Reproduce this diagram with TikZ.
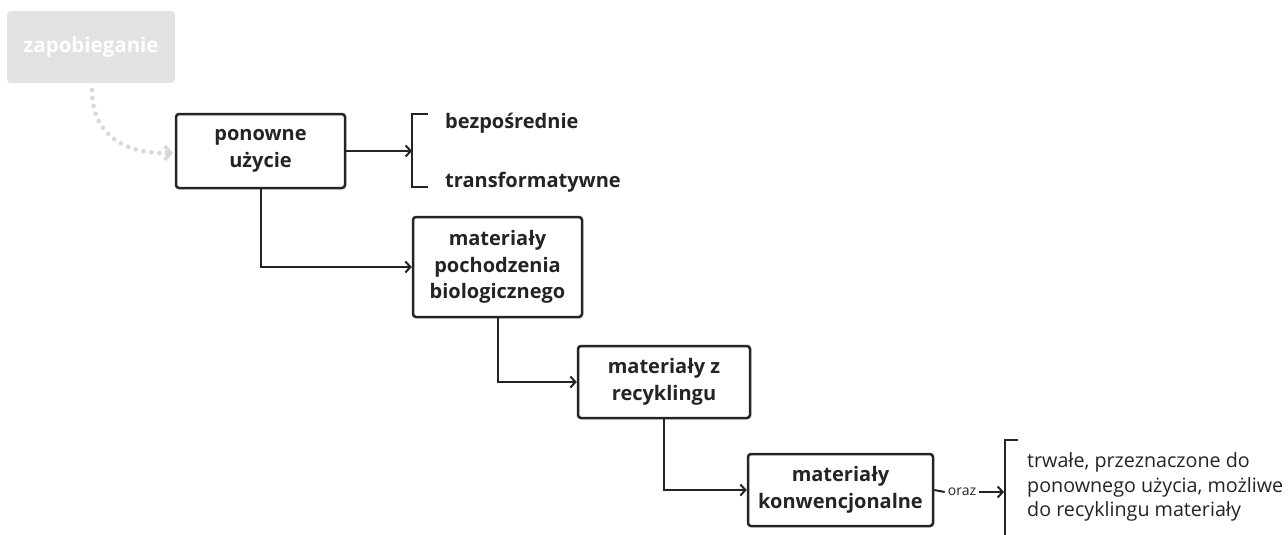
\documentclass[tikz,border=0pt]{standalone}
\usepackage{fontspec}
\setmainfont{Open Sans}
\usetikzlibrary{arrows.meta}
\definecolor{ink}{HTML}{242424}
\definecolor{ghost}{HTML}{E2E2E2}
\tikzset{
  x=1pt, y=-1pt,
  stagebox/.style={draw=ink, line width=2.5pt, rounded corners=3pt, fill=white,
    align=center, text=ink, inner sep=0pt,
    font=\bfseries\fontsize{20}{26.5}\selectfont},
  faded/.style={fill=ghost, rounded corners=4pt, align=center, text=white, inner sep=0pt,
    font=\bfseries\fontsize{20.5}{26}\selectfont},
  link/.style={draw=ink, line width=2pt, -{Straight Barb[length=5pt,width=11pt,line width=2pt]}},
  brace/.style={draw=ink, line width=2.5pt},
  itemtext/.style={anchor=west, text=ink, inner sep=0pt,
    font=\bfseries\fontsize{20}{26}\selectfont},
  notetext/.style={anchor=west, text=ink, inner sep=0pt, align=left,
    font=\fontsize{19.7}{24.5}\selectfont},
}
\begin{document}
\begin{tikzpicture}
\useasboundingbox (0,0) rectangle (1288,535);
\fill[white] (0,0) rectangle (1288,535);

% stages
\node[faded, minimum width=168pt, minimum height=72pt] (prev) at (91,47) {zapobieganie};
\node[stagebox, minimum width=169pt, minimum height=74pt] (reuse) at (260.5,151) {ponowne\\użycie};
\node[stagebox, minimum width=169pt, minimum height=100pt] (bio) at (497.5,267) {materiały\\pochodzenia\\biologicznego};
\node[stagebox, minimum width=172pt, minimum height=72pt] (recy) at (664,382) {materiały z\\recyklingu};
\node[stagebox, minimum width=185pt, minimum height=72pt] (conv) at (840.5,490) {materiały\\konwencjonalne};

% dotted link from the faded stage
\coordinate (prevout) at (92,90);
\coordinate (reusein) at (173,153);
\draw[ghost!90!gray, line width=4.5pt, line cap=round, dash pattern=on 0pt off 8pt]
  (prevout) .. controls (92,135) and (125,153) .. (163,153);
\draw[ghost!90!gray, line width=3.5pt, -{Straight Barb[length=6pt,width=14pt,line width=3.5pt]}]
  (165,153) -- (reusein);

% reuse options
\coordinate (b1top) at (428,114);
\coordinate (b1a) at (412,114);
\coordinate (b1mid) at (412,151);
\coordinate (b1b) at (412,187);
\coordinate (b1bot) at (428,187);
\draw[brace] (b1top) -- (b1a) -- (b1b) -- (b1bot);
\draw[link] (reuse.east) -- (b1mid);
\node[itemtext] (direct) at (445,123) {bezpośrednie};
\node[itemtext] (transf) at (445,182) {transformatywne};

% cascade
\draw[link] (reuse.south) |- (bio.west);
\draw[link] (bio.south) |- (recy.west);
\draw[link] (recy.south) |- (conv.west);

% conventional materials note
\node[text=ink, inner sep=0pt, font=\fontsize{14}{16}\selectfont] (oraz) at (962,492) {oraz};
\coordinate (b2top) at (1018,440);
\coordinate (b2a) at (1005,440);
\coordinate (b2mid) at (1004,492);
\coordinate (b2b) at (1005,540);
\draw[brace] (b2top) -- (b2a) -- (b2b);
\draw[draw=ink, line width=2pt] (conv.east) -- ([xshift=-3pt]oraz.west);
\draw[link] ([xshift=3pt]oraz.east) -- (b2mid);
\node[notetext] (note) at (1027,487) {trwałe, przeznaczone do\\ponownego użycia, możliwe\\do recyklingu materiały};
\end{tikzpicture}
\end{document}
